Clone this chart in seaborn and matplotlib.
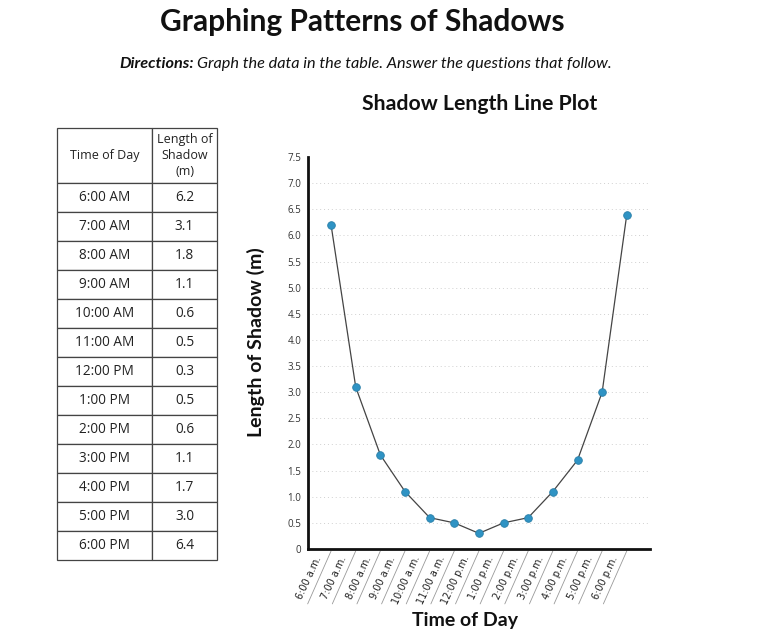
import numpy as np
import pandas as pd
import matplotlib
matplotlib.use("Agg")
import matplotlib.pyplot as plt
import matplotlib.transforms as mtransforms
import seaborn as sns

# ---- data ----
hours = [6, 7, 8, 9, 10, 11, 12, 13, 14, 15, 16, 17, 18]
table_times = ["6:00 AM", "7:00 AM", "8:00 AM", "9:00 AM", "10:00 AM", "11:00 AM",
               "12:00 PM", "1:00 PM", "2:00 PM", "3:00 PM", "4:00 PM", "5:00 PM", "6:00 PM"]
axis_times = ["6:00 a.m.", "7:00 a.m.", "8:00 a.m.", "9:00 a.m.", "10:00 a.m.", "11:00 a.m.",
              "12:00 p.m.", "1:00 p.m.", "2:00 p.m.", "3:00 p.m.", "4:00 p.m.", "5:00 p.m.", "6:00 p.m."]
shadow_len = [6.2, 3.1, 1.8, 1.1, 0.6, 0.5, 0.3, 0.5, 0.6, 1.1, 1.7, 3.0, 6.4]
y_ticks = [0, 0.5, 1.0, 1.5, 2.0, 2.5, 3.0, 3.5, 4.0, 4.5, 5.0, 5.5, 6.0, 6.5, 7.0, 7.5]
y_tick_labels = ["0", "0.5", "1.0", "1.5", "2.0", "2.5", "3.0", "3.5", "4.0", "4.5",
                 "5.0", "5.5", "6.0", "6.5", "7.0", "7.5"]

df = pd.DataFrame({"hour": hours, "length": shadow_len})

sns.set_theme(style="white")
plt.rcParams["font.family"] = ["Open Sans", "DejaVu Sans"]

fig = plt.figure(figsize=(7.59, 6.44), dpi=100)
fig.patch.set_facecolor("white")

# ---- headings ----
fig.text(0.478, 0.966, "Graphing Patterns of Shadows", ha="center", va="center",
         fontsize=21.5, fontweight="bold", family=["Lato", "DejaVu Sans"], color="#111111")
fig.text(0.255, 0.900, "Directions:", ha="right", va="center", fontsize=11.7,
         fontweight="bold", style="italic", family=["Lato", "DejaVu Sans"], color="#111111")
fig.text(0.259, 0.900, "Graph the data in the table. Answer the questions that follow.",
         ha="left", va="center", fontsize=11.7, style="italic",
         family=["Lato", "DejaVu Sans"], color="#111111")
fig.text(0.632, 0.838, "Shadow Length Line Plot", ha="center", va="center",
         fontsize=15.3, fontweight="bold", family=["Lato", "DejaVu Sans"], color="#111111")

# ---- table ----
tax = fig.add_axes([0.075, 0.1304, 0.211, 0.6708])
tax.axis("off")
cell_text = [[t, f"{v:.1f}"] for t, v in zip(table_times, shadow_len)]
tbl = tax.table(cellText=cell_text, colLabels=["Time of Day", "Length of\nShadow\n(m)"],
                cellLoc="center", bbox=[0, 0, 1, 1])
tbl.auto_set_font_size(False)
tbl.set_fontsize(9.8)
for (r, c), cell in tbl.get_celld().items():
    cell.set_height(55 if r == 0 else 29)
    cell.set_width(95 if c == 0 else 65)
    cell.set_edgecolor("#444444")
    cell.set_linewidth(0.9)
    cell.get_text().set_color("#222222")
    cell.get_text().set_fontfamily(["Open Sans", "DejaVu Sans"])
    if r == 0:
        cell.get_text().set_fontsize(9)
        cell.get_text().set_linespacing(1.3)

# ---- line plot ----
ax = fig.add_axes([0.406, 0.1475, 0.45, 0.6087])
sns.lineplot(data=df, x="hour", y="length", ax=ax, color="#444444", linewidth=0.9,
             marker="o", markersize=5.5, markerfacecolor="#2f93c4",
             markeredgecolor="#2a7fa8", markeredgewidth=0.6)
ax.set_xlim(hours[0] - 0.93, hours[-1] + 0.93)
ax.set_ylim(0, 7.5)
ax.set_yticks(y_ticks)
ax.set_yticklabels(y_tick_labels, fontsize=7, color="#333333")
ax.set_xticks(hours)
ax.set_xticklabels(axis_times, fontsize=7, rotation=65, rotation_mode="anchor",
                   ha="right", va="center", family=["DejaVu Sans"], color="#222222")
ax.tick_params(axis="both", length=0)
ax.tick_params(axis="y", pad=5)
ax.tick_params(axis="x", pad=4)
offset = mtransforms.ScaledTranslation(-0.12, -0.02, fig.dpi_scale_trans)
for lab in ax.get_xticklabels():
    lab.set_transform(lab.get_transform() + offset)

for s in ["top", "right"]:
    ax.spines[s].set_visible(False)
for s in ["left", "bottom"]:
    ax.spines[s].set_color("#111111")
    ax.spines[s].set_linewidth(2)

ax.yaxis.grid(True, linestyle=(0, (1, 3)), color="#d0d0d0", linewidth=0.7)
ax.xaxis.grid(False)
gls = ax.get_ygridlines()
gls[-1].set_visible(False)

# slanted separators under the axis
blend = mtransforms.blended_transform_factory(ax.transData, ax.transAxes)
for h in hours:
    ax.plot([h, h - 0.95], [-0.005, -0.14], transform=blend, clip_on=False,
            color="#999999", linewidth=0.6)

ax.set_xlabel("Time of Day", fontsize=14, fontweight="bold",
              family=["Lato", "DejaVu Sans"], color="#111111")
ax.set_ylabel("Length of Shadow (m)", fontsize=14, fontweight="bold",
              family=["Lato", "DejaVu Sans"], color="#111111")
ax.xaxis.set_label_coords(0.459, -0.16)
ax.yaxis.set_label_coords(-0.125, 0.527)

fig.savefig("out.png", dpi=100, facecolor="white")
